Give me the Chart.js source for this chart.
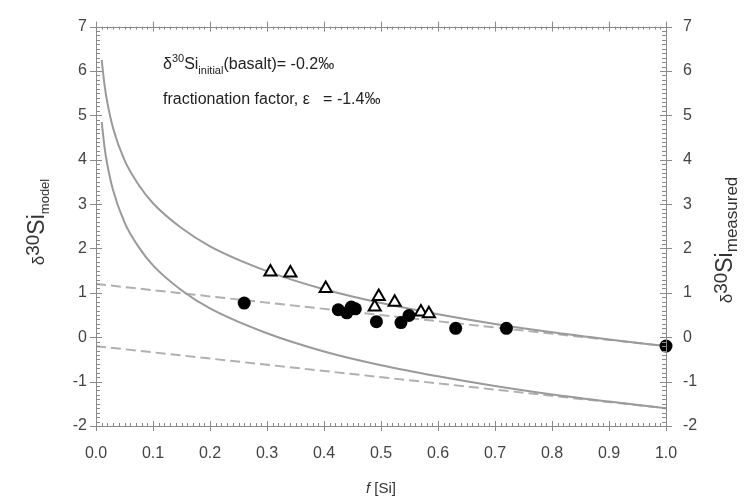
<!DOCTYPE html>
<html>
<head>
<meta charset="utf-8">
<script src="https://cdn.jsdelivr.net/npm/chart.js@4.4.0/dist/chart.umd.min.js"></script>
<style>
  html, body { margin: 0; padding: 0; background: #fff; }
  #wrap { width: 747px; height: 498px; }
</style>
</head>
<body>
<div id="wrap"><canvas id="chart-si"></canvas></div>
<script>
// model curves
var fCurve = [0.01, 0.015, 0.02, 0.03, 0.05, 0.075, 0.1, 0.15, 0.2, 0.3, 0.4, 0.5, 0.6, 0.7, 0.8, 0.9, 1.0];
var rayleighUpper = [6.25, 5.68, 5.28, 4.71, 3.99, 3.43, 3.02, 2.46, 2.05, 1.49, 1.08, 0.77, 0.52, 0.30, 0.11, -0.05, -0.20];
var rayleighLower = [4.85, 4.28, 3.88, 3.31, 2.59, 2.03, 1.62, 1.06, 0.65, 0.09, -0.32, -0.63, -0.88, -1.10, -1.29, -1.45, -1.60];
var fLine = [0, 1];
var steadyUpper = [1.2, -0.2];
var steadyLower = [-0.2, -1.6];

// measured samples
var circleF = [0.26, 0.425, 0.44, 0.448, 0.455, 0.492, 0.535, 0.549, 0.631, 0.72, 1.0];
var circleD = [0.77, 0.62, 0.55, 0.68, 0.64, 0.35, 0.33, 0.49, 0.20, 0.20, -0.20];
var triF = [0.306, 0.341, 0.403, 0.489, 0.496, 0.524, 0.570, 0.584];
var triD = [1.47, 1.45, 1.10, 0.68, 0.92, 0.79, 0.57, 0.53];

var xTicks = ['0.0','0.1','0.2','0.3','0.4','0.5','0.6','0.7','0.8','0.9','1.0'];

function pts(xs, ys) {
  return xs.map(function (x, i) { return { x: x, y: ys[i] }; });
}

var FONT = '"Liberation Sans", Arial, sans-serif';

// runs: [text, size, dy, italic]
function runsWidth(c, runs) {
  var w = 0;
  runs.forEach(function (r) {
    c.font = (r[3] ? 'italic ' : '') + r[1] + 'px ' + FONT;
    w += c.measureText(r[0]).width;
  });
  return w;
}
function drawRuns(c, runs, x, y) {
  var cx = x;
  runs.forEach(function (r) {
    c.font = (r[3] ? 'italic ' : '') + r[1] + 'px ' + FONT;
    c.fillText(r[0], cx, y + r[2]);
    cx += c.measureText(r[0]).width;
  });
}

var frame = {
  id: 'frame',
  afterDraw: function (chart) {
    var c = chart.ctx, a = chart.chartArea;
    var xs = chart.scales.x, ys = chart.scales.y;
    c.save();
    c.strokeStyle = '#8a8a8a';
    c.lineWidth = 1;
    c.beginPath();
    for (var i = 0; i <= 100; i++) {
      var px = Math.round(xs.getPixelForValue(i / 100)) + 0.5;
      var big = i % 10 === 0;
      c.moveTo(px, a.bottom + (big ? 5 : 0)); c.lineTo(px, a.bottom - (big ? 5 : 3));
      c.moveTo(px, a.top - (big ? 5 : 0)); c.lineTo(px, a.top + (big ? 5 : 3));
    }
    for (var j = -20; j <= 70; j++) {
      var py = Math.round(ys.getPixelForValue(j / 10)) + 0.5;
      var major = j % 10 === 0;
      c.moveTo(a.left - (major ? 6 : 0), py); c.lineTo(a.left + (major ? 6 : 4), py);
      c.moveTo(a.right + (major ? 6 : 0), py); c.lineTo(a.right - (major ? 6 : 4), py);
    }
    c.stroke();
    c.strokeRect(Math.round(a.left) + 0.5, Math.round(a.top) + 0.5,
      Math.round(a.right - a.left), Math.round(a.bottom - a.top));

    // titles
    c.fillStyle = '#333';
    c.textBaseline = 'alphabetic';
    var leftT = [['δ', 17, 0], ['30', 19, -5], ['Si', 23, 0], ['model', 13, 5]];
    var rightT = [['δ', 17, 0], ['30', 19, -5], ['Si', 23, 0], ['measured', 17, 5]];
    c.save();
    c.translate(44, 222); c.rotate(-Math.PI / 2);
    drawRuns(c, leftT, -runsWidth(c, leftT) / 2, 0);
    c.restore();
    c.save();
    c.translate(732, 240); c.rotate(-Math.PI / 2);
    drawRuns(c, rightT, -runsWidth(c, rightT) / 2, 0);
    c.restore();
    var xT = [['f', 15, 0, true], [' [Si]', 15, 0]];
    drawRuns(c, xT, (a.left + a.right) / 2 - runsWidth(c, xT) / 2, 493);

    // notes
    c.fillStyle = '#222';
    drawRuns(c, [['δ', 16, 0], ['30', 11, -7], ['Si', 16, 0], ['initial', 11, 5], ['(basalt)= -0.2‰', 16, 0]], 163, 69);
    drawRuns(c, [['fractionation factor, ε   = -1.4‰', 16, 0]], 163, 104);
    c.restore();
  }
};

var ctx = document.getElementById('chart-si').getContext('2d');

new Chart(ctx, {
  type: 'scatter',
  data: {
    datasets: [
      {
        label: 'measured (filled)',
        data: pts(circleF, circleD),
        pointStyle: 'circle',
        pointRadius: 6.5,
        backgroundColor: '#000',
        borderColor: '#000',
        borderWidth: 0,
        clip: false
      },
      {
        label: 'measured (open)',
        data: pts(triF, triD),
        pointStyle: 'triangle',
        pointRadius: 7,
        backgroundColor: '#fff',
        borderColor: '#000',
        borderWidth: 2,
        clip: false
      },
      {
        label: 'Rayleigh upper',
        data: pts(fCurve, rayleighUpper),
        showLine: true,
        pointRadius: 0,
        borderColor: '#9a9a9a',
        borderWidth: 2,
        cubicInterpolationMode: 'monotone'
      },
      {
        label: 'Rayleigh lower',
        data: pts(fCurve, rayleighLower),
        showLine: true,
        pointRadius: 0,
        borderColor: '#9a9a9a',
        borderWidth: 2,
        cubicInterpolationMode: 'monotone'
      },
      {
        label: 'steady upper',
        data: pts(fLine, steadyUpper),
        showLine: true,
        pointRadius: 0,
        borderColor: '#b0b0b0',
        borderWidth: 2,
        borderDash: [10, 5]
      },
      {
        label: 'steady lower',
        data: pts(fLine, steadyLower),
        showLine: true,
        pointRadius: 0,
        borderColor: '#b0b0b0',
        borderWidth: 2,
        borderDash: [10, 5]
      }
    ]
  },
  options: {
    responsive: true,
    maintainAspectRatio: false,
    animation: false,
    layout: { padding: { top: 18, left: 0, right: 0, bottom: 0 } },
    plugins: {
      legend: { display: false },
      tooltip: { enabled: false }
    },
    scales: {
      x: {
        type: 'linear',
        min: 0,
        max: 1,
        afterFit: function (s) { s.height = 72; },
        grid: { display: false, drawTicks: false },
        border: { display: false },
        ticks: {
          stepSize: 0.1,
          padding: 18,
          color: '#444',
          font: { size: 16, family: FONT },
          maxRotation: 0,
          callback: function (v, i) { return xTicks[i]; }
        }
      },
      y: {
        position: 'left',
        min: -2,
        max: 7,
        afterFit: function (s) { s.width = 96; },
        grid: { display: false, drawTicks: false },
        border: { display: false },
        ticks: {
          stepSize: 1,
          padding: 9,
          color: '#444',
          font: { size: 16, family: FONT }
        }
      },
      y2: {
        position: 'right',
        min: -2,
        max: 7,
        afterFit: function (s) { s.width = 81; },
        grid: { display: false, drawTicks: false },
        border: { display: false },
        ticks: {
          stepSize: 1,
          padding: 17,
          color: '#444',
          font: { size: 16, family: FONT }
        }
      }
    }
  },
  plugins: [frame]
});
</script>
</body>
</html>
